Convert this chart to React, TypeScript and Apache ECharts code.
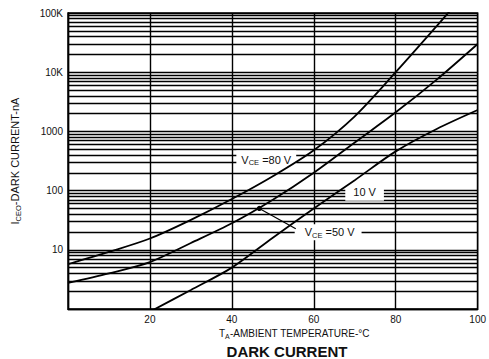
import React, { useEffect, useRef } from "react";
import * as echarts from "echarts";

const FONT = "'Liberation Sans', Arial, sans-serif";

// V_CE = 80 V curve
const TEMPS_80 = [0, 10, 20, 30, 40, 50, 60, 70, 80, 90, 95];
const DARK_80 = [5.7, 9.2, 15.5, 32, 72, 175, 480, 1800, 10000, 60000, 150000];
// V_CE = 50 V curve
const TEMPS_50 = [0, 10, 20, 30, 40, 50, 60, 70, 80, 90, 100];
const DARK_50 = [2.75, 4, 6.2, 13, 28, 70, 200, 650, 2100, 7500, 30000];
// V_CE = 10 V curve
const TEMPS_10 = [20, 30, 40, 50, 60, 70, 80, 90, 100];
const DARK_10 = [0.9, 2.1, 5, 16, 50, 150, 460, 1100, 2300];

// tick labels
const X_TICK_LABELS: Record<number, string> = { 0: "", 20: "20", 40: "40", 60: "60", 80: "80", 100: "100" };
const Y_TICK_LABELS: Record<number, string> = { 1: "", 10: "10", 100: "100", 1000: "1000", 10000: "10K", 100000: "100K" };

// log-grid minor lines (2..9 within each decade)
const DECADES = [1, 10, 100, 1000, 10000];
const MULTIPLES = [2, 3, 4, 5, 6, 7, 8, 9];

// annotations (data coordinates)
const LABEL_80 = [48.4, 335];
const LABEL_10 = [72.4, 96];
const LABEL_50 = [63.5, 19.8];
const DOT_50 = [46.7, 50];
const LEADER_END = [55.6, 22.7];

export default function App() {
  const ref = useRef<HTMLDivElement>(null);

  useEffect(() => {
    document.body.style.margin = "0";
    const chart = echarts.init(ref.current!, null, { renderer: "svg" });
    const minor: number[] = [];
    DECADES.forEach((d) => MULTIPLES.forEach((m) => minor.push(d * m)));

    const curveStyle = { color: "#000", width: 1.8 };

    chart.setOption({
      animation: false,
      backgroundColor: "#fff",
      grid: {
        left: 68,
        right: 4,
        top: 13,
        bottom: 50,
        show: true,
        borderColor: "#000",
        borderWidth: 1.4,
      },
      xAxis: {
        type: "value",
        min: 0,
        max: 100,
        interval: 20,
        name: "{m|T}{s|A}{m|-AMBIENT TEMPERATURE-°C}",
        nameLocation: "middle",
        nameGap: 15,
        nameTextStyle: {
          color: "#111",
          padding: [0, 0, 0, 43],
          rich: {
            m: { fontSize: 10, fontFamily: FONT, lineHeight: 13, color: "#111" },
            s: { fontSize: 7, fontFamily: FONT, lineHeight: 5, verticalAlign: "bottom", color: "#111" },
          },
        },
        axisLine: { show: true, lineStyle: { color: "#000", width: 1.4 } },
        axisTick: { show: false },
        axisLabel: {
          margin: 5,
          color: "#111",
          fontSize: 10,
          fontFamily: FONT,
          formatter: (v: number) => X_TICK_LABELS[v] ?? String(v),
        },
        splitLine: { show: true, lineStyle: { color: "#000", width: 1.4 } },
      },
      yAxis: {
        type: "log",
        logBase: 10,
        min: 1,
        max: 100000,
        splitNumber: 5,
        name: "{m|I}{s|CEO}{m|-DARK CURRENT-nA}",
        nameLocation: "middle",
        nameGap: 46,
        nameRotate: 90,
        nameTextStyle: {
          color: "#111",
          rich: {
            m: { fontSize: 11, fontFamily: FONT, lineHeight: 14, color: "#111" },
            s: { fontSize: 7.5, fontFamily: FONT, lineHeight: 6, verticalAlign: "bottom", color: "#111" },
          },
        },
        axisLine: { show: true, lineStyle: { color: "#000", width: 1.4 } },
        axisTick: { show: false },
        minorTick: { show: false },
        axisLabel: {
          margin: 5,
          color: "#111",
          fontSize: 10,
          fontFamily: FONT,
          formatter: (v: number) => Y_TICK_LABELS[Math.round(v)] ?? String(v),
        },
        splitLine: { show: true, lineStyle: { color: "#000", width: 1.4 } },
      },
      series: [
        {
          type: "line",
          name: "VCE=80V",
          data: TEMPS_80.map((t, i) => [t, DARK_80[i]]),
          smooth: 0.3,
          symbol: "none",
          lineStyle: curveStyle,
          z: 10,
          clip: true,
          silent: true,
          markLine: {
            silent: true,
            z: 1,
            symbol: ["none", "none"],
            label: { show: false },
            lineStyle: { color: "#000", width: 1.3, type: "solid" },
            emphasis: { disabled: true },
            data: minor.map((v) => ({ yAxis: v })),
          },
        },
        {
          type: "line",
          name: "VCE=50V",
          data: TEMPS_50.map((t, i) => [t, DARK_50[i]]),
          smooth: 0.3,
          symbol: "none",
          lineStyle: curveStyle,
          z: 10,
          clip: true,
          silent: true,
        },
        {
          type: "line",
          name: "10V",
          data: TEMPS_10.map((t, i) => [t, DARK_10[i]]),
          smooth: 0.3,
          symbol: "none",
          lineStyle: curveStyle,
          z: 10,
          clip: true,
          silent: true,
        },
      ],
    });

    const px = (p: number[]) => chart.convertToPixel({ gridIndex: 0 }, p) as number[];
    const l80 = px(LABEL_80);
    const l10 = px(LABEL_10);
    const l50 = px(LABEL_50);
    const dot = px(DOT_50);
    const lend = px(LEADER_END);

    const labelText = (pos: number[], text: string, padding: number[]) => ({
      type: "text",
      x: pos[0],
      y: pos[1],
      z: 5,
      silent: true,
      style: {
        text,
        rich: {
          m: { fontSize: 11, fontFamily: FONT, lineHeight: 14, fill: "#111" },
          s: { fontSize: 7.5, fontFamily: FONT, lineHeight: 6, verticalAlign: "bottom", fill: "#111" },
        },
        fill: "#111",
        backgroundColor: "#fff",
        padding,
        align: "center",
        verticalAlign: "middle",
        textAlign: "center",
        textVerticalAlign: "middle",
      },
    });

    chart.setOption({
      graphic: [
        labelText(l80, "{m|V}{s|CE}{m| =80 V}", [2, 5, 2, 5]),
        labelText(l10, "{m|10 V}", [2, 8, 2, 8]),
        labelText(l50, "{m|V}{s|CE}{m| =50 V}", [1, 7, 1, 10]),
        {
          type: "line",
          z: 12,
          silent: true,
          shape: { x1: dot[0], y1: dot[1], x2: lend[0], y2: lend[1] },
          style: { stroke: "#000", lineWidth: 1.2 },
        },
        {
          type: "circle",
          z: 12,
          silent: true,
          shape: { cx: dot[0], cy: dot[1], r: 2.6 },
          style: { fill: "#000" },
        },
        {
          type: "text",
          x: 287,
          y: 351,
          z: 5,
          silent: true,
          style: {
            text: "DARK CURRENT",
            fill: "#111",
            font: `bold 15px ${FONT}`,
            fontSize: 15,
            fontWeight: "bold",
            fontFamily: FONT,
            align: "center",
            verticalAlign: "middle",
            textAlign: "center",
            textVerticalAlign: "middle",
          },
        },
      ],
    });

    return () => chart.dispose();
  }, []);

  return <div ref={ref} style={{ width: 489, height: 359 }} />;
}
